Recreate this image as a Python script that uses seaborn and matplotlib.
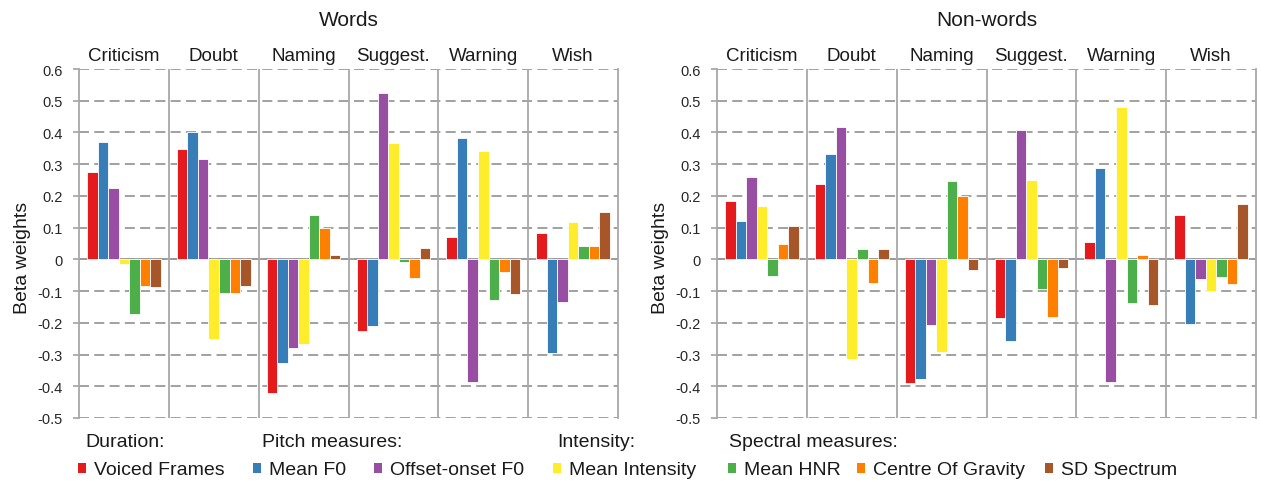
import numpy as np
import pandas as pd
import matplotlib
matplotlib.use("Agg")
import matplotlib.pyplot as plt
import seaborn as sns

# ---------------- data ----------------
panels = ["Words", "Non-words"]
categories = ["Criticism", "Doubt", "Naming", "Suggest.", "Warning", "Wish"]
measures = ["Voiced Frames", "Mean F0", "Offset-onset F0", "Mean Intensity",
            "Mean HNR", "Centre Of Gravity", "SD Spectrum"]
group_titles = ["Duration:", "Pitch measures:", "Intensity:", "Spectral measures:"]
colors = ["#E41A1C", "#377EB8", "#984EA3", "#FFEC2A", "#4DAF4A", "#FF7F00", "#A65628"]

yticks = [0.6, 0.5, 0.4, 0.3, 0.2, 0.1, 0.0, -0.1, -0.2, -0.3, -0.4, -0.5]
ytick_labels = ["0.6", "0.5", "0.4", "0.3", "0.2", "0.1", "0",
                "-0.1", "-0.2", "-0.3", "-0.4", "-0.5"]

words_voiced_frames = [0.276, 0.348, -0.421, -0.227, 0.072, 0.083]
words_mean_f0 = [0.370, 0.402, -0.326, -0.211, 0.384, -0.295]
words_offset_onset_f0 = [0.224, 0.315, -0.278, 0.525, -0.387, -0.135]
words_mean_intensity = [-0.016, -0.251, -0.267, 0.367, 0.343, 0.118]
words_mean_hnr = [-0.172, -0.107, 0.141, -0.008, -0.127, 0.043]
words_centre_of_gravity = [-0.084, -0.107, 0.098, -0.059, -0.039, 0.041]
words_sd_spectrum = [-0.086, -0.083, 0.013, 0.035, -0.108, 0.149]

nonwords_voiced_frames = [0.183, 0.237, -0.390, -0.185, 0.055, 0.140]
nonwords_mean_f0 = [0.120, 0.332, -0.377, -0.258, 0.289, -0.204]
nonwords_offset_onset_f0 = [0.259, 0.416, -0.207, 0.407, -0.388, -0.062]
nonwords_mean_intensity = [0.168, -0.315, -0.292, 0.249, 0.479, -0.101]
nonwords_mean_hnr = [-0.053, 0.033, 0.248, -0.092, -0.136, -0.056]
nonwords_centre_of_gravity = [0.050, -0.075, 0.199, -0.182, 0.013, -0.078]
nonwords_sd_spectrum = [0.104, 0.033, -0.033, -0.027, -0.145, 0.174]

panel_series = {
    "Words": [words_voiced_frames, words_mean_f0, words_offset_onset_f0,
              words_mean_intensity, words_mean_hnr, words_centre_of_gravity,
              words_sd_spectrum],
    "Non-words": [nonwords_voiced_frames, nonwords_mean_f0, nonwords_offset_onset_f0,
                  nonwords_mean_intensity, nonwords_mean_hnr,
                  nonwords_centre_of_gravity, nonwords_sd_spectrum],
}

rows = []
for p in panels:
    for m, vals in zip(measures, panel_series[p]):
        for c, v in zip(categories, vals):
            rows.append({"panel": p, "category": c, "measure": m, "value": v})
df = pd.DataFrame(rows)

# ---------------- style ----------------
sns.set_theme(style="white")
plt.rcParams["font.family"] = ["Liberation Sans", "DejaVu Sans"]
plt.rcParams["lines.scale_dashes"] = False

W, H = 1261, 485
fig = plt.figure(figsize=(W / 100, H / 100), dpi=100)

grid_col = "#9A9A9A"
text_col = "#1A1A1A"

axes_px = [(79, 70, 1256 - 717), (717, 70, 1256 - 717)]
ax_h_px = 419 - 70

handles = None
for i, p in enumerate(panels):
    x0, y0, wpx = axes_px[i]
    ax = fig.add_axes([x0 / W, 1 - (y0 + ax_h_px) / H, wpx / W, ax_h_px / H])
    sub = df[df["panel"] == p]
    sns.barplot(data=sub, x="category", y="value", hue="measure",
                order=categories, hue_order=measures, palette=colors,
                saturation=1, width=0.82, edgecolor="white", linewidth=0.6,
                errorbar=None, ax=ax, legend=True, zorder=3)
    leg = ax.get_legend()
    if handles is None:
        handles = list(leg.legend_handles)
    leg.remove()

    ax.set_xlim(-0.5, len(categories) - 0.5)
    ax.set_ylim(-0.5, 0.6)
    ax.set_yticks(yticks)
    ax.set_yticklabels(ytick_labels)
    ax.set_xlabel("")
    ax.set_ylabel("Beta weights", fontsize=14, color=text_col)
    ax.yaxis.set_label_coords(-0.089, 0.461)

    ax.xaxis.tick_top()
    ax.tick_params(axis="x", length=0, pad=3.5, labelsize=13.5, labelcolor=text_col)
    ax.tick_params(axis="y", left=True, length=4.5, width=1.1, color=grid_col,
                   pad=7, labelsize=10.5, labelcolor="#262626")

    ax.set_axisbelow(True)
    ax.yaxis.grid(True, color=grid_col, linewidth=1.3, dashes=(7.2, 3.8), zorder=0)
    ax.xaxis.grid(False)
    ax.axhline(0, color=grid_col, linewidth=1.3, zorder=1)
    for b in np.arange(0.5, len(categories) - 0.5, 1.0):
        ax.axvline(b, color="#A8A8A8", linewidth=1.3, zorder=1)
    for s in ["top", "bottom"]:
        ax.spines[s].set_visible(False)
    for s in ["left", "right"]:
        ax.spines[s].set_visible(True)
        ax.spines[s].set_color("#A8A8A8")
        ax.spines[s].set_linewidth(1.3)

    fig.text((x0 + wpx / 2) / W, 1 - 21 / H, p, ha="center", va="center",
             fontsize=15, color=text_col)

# ---------------- legend ----------------
header_x = [85, 262, 557, 729]
for t, xh in zip(group_titles, header_x):
    fig.text(xh / W, 1 - 443 / H, t, ha="left", va="center", fontsize=14, color=text_col)

square_x = [78, 253, 374, 553, 728, 857, 1045]
for h, lab, xs in zip(handles, measures, square_x):
    lg = fig.legend([h], [lab], loc="center left",
                    bbox_to_anchor=(xs / W, 1 - 471 / H),
                    frameon=False, borderpad=0, borderaxespad=0,
                    handlelength=0.42, handleheight=0.42, handletextpad=0.38,
                    fontsize=14, labelcolor=text_col)
    for lh in lg.legend_handles:
        lh.set_linewidth(0)

fig.savefig("out.png", dpi=100)
